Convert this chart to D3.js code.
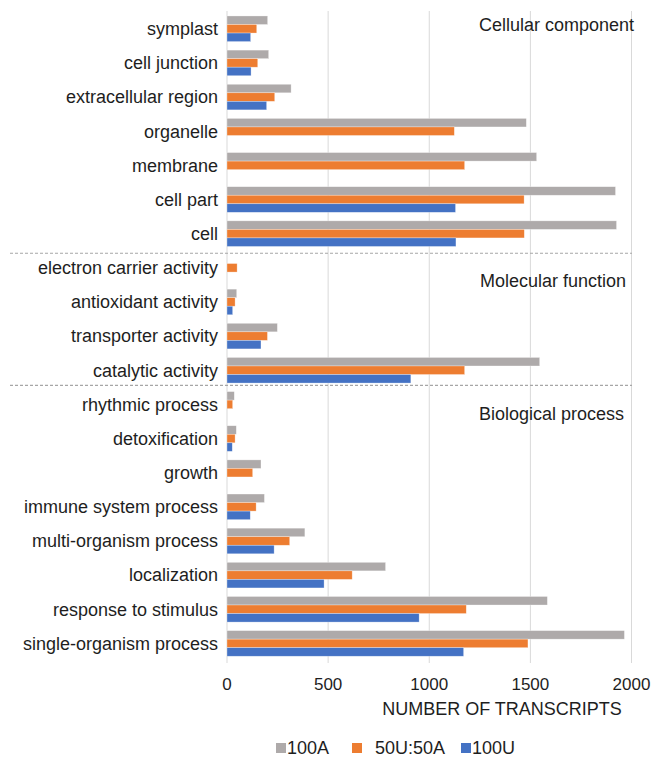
<!DOCTYPE html>
<html lang="en">
<head>
    <meta charset="UTF-8">
    <title>GO categories - number of transcripts</title>
    <style>
        body {
            margin: 0;
            padding: 0;
            background-color: #fff;
            font-family: "Liberation Sans", Arial, sans-serif;
        }
        .label { font-size: 18px; fill: #1e1e1e; }
        .tick-label { font-size: 17px; fill: #1e1e1e; }
    </style>
    <script src="https://d3js.org/d3.v7.min.js"></script>
</head>
<body>
    <svg id="chart" width="656" height="758"></svg>

    <script>
        // categories, top to bottom
        const categories = [
            "symplast", "cell junction", "extracellular region", "organelle", "membrane", "cell part", "cell",
            "electron carrier activity", "antioxidant activity", "transporter activity", "catalytic activity",
            "rhythmic process", "detoxification", "growth", "immune system process", "multi-organism process",
            "localization", "response to stimulus", "single-organism process"
        ];

        const series = ["100A", "50U:50A", "100U"];

        // values (0 = no bar)
        const values100A = [201, 206, 317, 1480, 1531, 1921, 1926,
            0, 48, 249, 1546,
            36, 46, 168, 185, 385, 784, 1584, 1965];
        const values50U50A = [147, 152, 236, 1124, 1175, 1469, 1470,
            50, 40, 200, 1175,
            28, 40, 127, 144, 310, 619, 1183, 1488];
        const values100U = [117, 119, 196, 0, 0, 1130, 1132,
            0, 28, 168, 909,
            0, 26, 0, 115, 233, 480, 950, 1170];

        const xTicks = [0, 500, 1000, 1500, 2000];

        // section name + first category of that section
        const sections = [
            { name: "Cellular component", first: "symplast" },
            { name: "Molecular function", first: "electron carrier activity" },
            { name: "Biological process", first: "rhythmic process" }
        ];

        const colors = { "100A": "#aeaaaa", "50U:50A": "#ed7d31", "100U": "#4472c4" };

        const svg = d3.select("#chart");

        const x = d3.scaleLinear().domain([0, 2000]).range([227, 631.5]);

        const y0 = d3.scaleBand()
            .domain(categories)
            .range([11.7, 660.5])
            .paddingInner(0.25)
            .paddingOuter(0.125);

        const y1 = d3.scaleBand()
            .domain(series)
            .range([0, y0.bandwidth()]);

        const gap = (y0.step() - y0.bandwidth()) / 2;

        // gridlines
        svg.append("g")
            .selectAll("line")
            .data(xTicks)
            .enter().append("line")
            .attr("x1", d => x(d))
            .attr("x2", d => x(d))
            .attr("y1", 11)
            .attr("y2", 663)
            .attr("stroke", "#d9d9d9")
            .attr("stroke-width", 1);

        // tick labels
        svg.append("g")
            .selectAll("text")
            .data(xTicks)
            .enter().append("text")
            .attr("class", "tick-label")
            .attr("x", d => x(d))
            .attr("y", 690)
            .attr("text-anchor", "middle")
            .text(d => d);

        // bars
        const rows = categories.map((c, i) => ({
            cat: c,
            vals: [
                { s: "100A", v: values100A[i] },
                { s: "50U:50A", v: values50U50A[i] },
                { s: "100U", v: values100U[i] }
            ]
        }));

        const rowG = svg.append("g")
            .selectAll("g")
            .data(rows)
            .enter().append("g")
            .attr("transform", d => `translate(0,${y0(d.cat)})`);

        rowG.selectAll("rect")
            .data(d => d.vals.filter(e => e.v > 0))
            .enter().append("rect")
            .attr("x", x(0))
            .attr("y", d => y1(d.s))
            .attr("width", d => x(d.v) - x(0))
            .attr("height", y1.bandwidth())
            .attr("fill", d => colors[d.s])
            .attr("stroke", "#fff")
            .attr("stroke-opacity", 0.5)
            .attr("stroke-width", 0.6);

        // category labels
        svg.append("g")
            .selectAll("text")
            .data(categories)
            .enter().append("text")
            .attr("class", "label")
            .attr("x", 218)
            .attr("y", d => y0(d) + y0.bandwidth() / 2)
            .attr("dy", "0.35em")
            .attr("text-anchor", "end")
            .text(d => d);

        // dashed separators between sections
        const sepShift = [2.5, -2];
        svg.append("g")
            .selectAll("line")
            .data(sections.slice(1))
            .enter().append("line")
            .attr("x1", 10)
            .attr("x2", 632)
            .attr("y1", (d, i) => y0(d.first) - gap + sepShift[i])
            .attr("y2", (d, i) => y0(d.first) - gap + sepShift[i])
            .attr("stroke", "#a6a6a6")
            .attr("stroke-width", 1.2)
            .attr("stroke-dasharray", "3,2");

        // section names
        const sectionX = [634, 626, 624];
        const sectionDy = [9, 26, 22];
        svg.append("g")
            .selectAll("text")
            .data(sections)
            .enter().append("text")
            .attr("class", "label")
            .attr("x", (d, i) => sectionX[i])
            .attr("y", (d, i) => y0(d.first) + sectionDy[i])
            .attr("dy", "0.35em")
            .attr("text-anchor", "end")
            .text(d => d.name);

        // axis title
        svg.append("text")
            .attr("class", "label")
            .attr("x", 502)
            .attr("y", 715)
            .attr("text-anchor", "middle")
            .text("NUMBER OF TRANSCRIPTS");

        // legend
        const legendX = [276, 352, 461];
        const legend = svg.append("g")
            .selectAll("g")
            .data(series)
            .enter().append("g")
            .attr("transform", (d, i) => `translate(${legendX[i]},743)`);

        legend.append("rect")
            .attr("width", 10)
            .attr("height", 10)
            .attr("fill", d => colors[d]);

        legend.append("text")
            .attr("class", "label")
            .attr("x", (d, i) => i === 1 ? 23 : 11)
            .attr("y", 10.5)
            .text(d => d);
    </script>
</body>
</html>
